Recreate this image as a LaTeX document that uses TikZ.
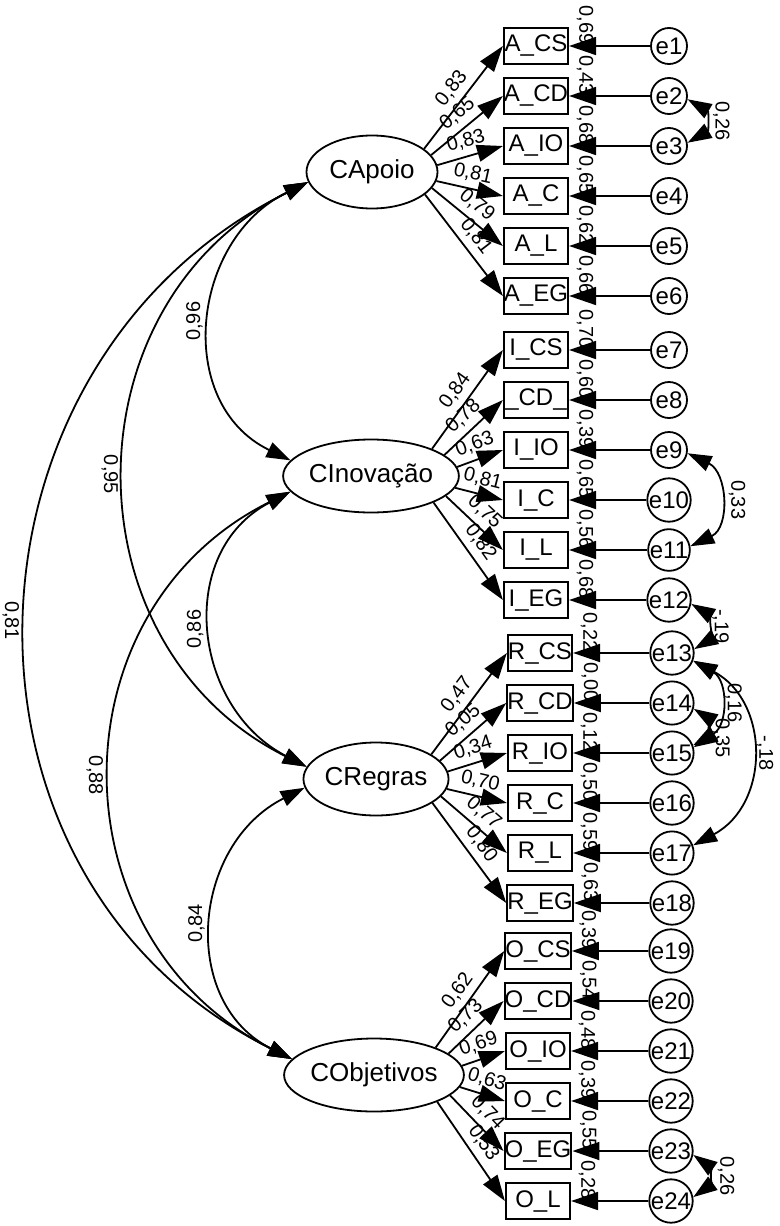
\documentclass[tikz,border=0pt]{standalone}
\usepackage{fontspec}
\setmainfont{Liberation Sans}
\usetikzlibrary{arrows.meta,shapes.geometric}
\begin{document}
\begin{tikzpicture}[x=1pt,y=-1pt,
  lat/.style={draw, ellipse, line width=1.8pt, minimum width=131pt, minimum height=73pt, inner sep=0pt, font=\fontsize{26}{28}\selectfont},
  obs/.style={draw, rectangle, line width=2.2pt, minimum width=64pt, minimum height=36pt, inner sep=0pt, font=\fontsize{24}{26}\selectfont},
  err/.style={draw, circle, line width=1.8pt, minimum size=36pt, inner sep=0pt, font=\fontsize{24}{26}\selectfont},
  arr/.style={line width=1.8pt, -{Triangle[length=26pt,width=17pt]}},
  darr/.style={line width=1.8pt, {Triangle[length=24pt,width=16pt]}-{Triangle[length=24pt,width=16pt]}},
  lab/.style={font=\fontsize{20}{22}\selectfont, inner sep=1pt},
]
\useasboundingbox (0,0) rectangle (779,1226);

% latent variables
\node[lat] (CA) at (372,172) {CApoio};
\node[lat] (CI) at (371,476) {CInovação};
\node[lat] (CR) at (376,779) {CRegras};
\node[lat] (CO) at (374,1075) {CObjetivos};

% observed variables and errors
\foreach \n/\txt/\x/\y/\e/\ex in {
  ACS/A\_CS/536/46/e1/669, ACD/A\_CD/536/96/e2/669, AIO/A\_IO/536/146/e3/669,
  AC/A\_C/536/196/e4/669, AL/A\_L/536/246/e5/669, AEG/A\_EG/536/296/e6/669,
  ICS/I\_CS/536/350/e7/669, ICD/\_CD\_/536/400/e8/669, IIO/I\_IO/536/450/e9/669,
  IC/I\_C/536/500/e10/669, IL/I\_L/536/550/e11/669, IEG/I\_EG/536/600/e12/669,
  RCS/R\_CS/540/653/e13/672, RCD/R\_CD/540/703/e14/672, RIO/R\_IO/540/753/e15/672,
  RC/R\_C/540/803/e16/672, RL/R\_L/540/853/e17/672, REG/R\_EG/540/903/e18/672,
  OCS/O\_CS/538/951/e19/671, OCD/O\_CD/538/1001/e20/671, OIO/O\_IO/538/1051/e21/671,
  OC/O\_C/538/1101/e22/671, OEG/O\_EG/538/1151/e23/671, OL/O\_L/538/1201/e24/671}{
  \node[obs] (\n) at (\x,\y) {\txt};
  \node[err] (\e) at (\ex,\y) {\e};
  \draw[line width=1.8pt, -{Triangle[length=27pt,width=18pt]}] (\e) -- (\n);
}

% loadings
\foreach \lat/\n/\ang/\v in {
  CA/ACS/24/{0,83}, CA/ACD/16/{0,65}, CA/AIO/6/{0,83}, CA/AC/352/{0,81}, CA/AL/345/{0,79}, CA/AEG/337/{0,81},
  CI/ICS/24/{0,84}, CI/ICD/16/{0,78}, CI/IIO/6/{0,63}, CI/IC/352/{0,81}, CI/IL/345/{0,75}, CI/IEG/337/{0,82},
  CR/RCS/24/{0,47}, CR/RCD/16/{0,05}, CR/RIO/6/{0,34}, CR/RC/352/{0,70}, CR/RL/345/{0,77}, CR/REG/337/{0,80},
  CO/OCS/24/{0,62}, CO/OCD/16/{0,73}, CO/OIO/6/{0,69}, CO/OC/352/{0,63}, CO/OEG/345/{0,74}, CO/OL/337/{0,53}}{
  \draw[arr] (\lat.\ang) -- (\n.west) node[lab, sloped, above=5pt, pos=0.5] (l\n) {\v};
}

% squared multiple correlations
\foreach \n/\v in {
  ACS/{0,69}, ACD/{0,43}, AIO/{0,68}, AC/{0,65}, AL/{0,62}, AEG/{0,66},
  ICS/{0,70}, ICD/{0,60}, IIO/{0,39}, IC/{0,65}, IL/{0,56}, IEG/{0,68},
  RCS/{0,22}, RCD/{0,00}, RIO/{0,12}, RC/{0,50}, RL/{0,59}, REG/{0,63},
  OCS/{0,39}, OCD/{0,54}, OIO/{0,48}, OC/{0,39}, OEG/{0,55}, OL/{0,28}}{
  \node[lab, rotate=-90] (r\n) at ([shift={(16,-21)}]\n.east) {\v};
}

% covariances between latent variables
\draw[darr] (CA.189) .. controls +(-117,57) and +(-117,-57) .. (CI.169)
  node[lab, pos=0.5, xshift=-17pt, rotate=90] (c1) {0,96};
\draw[darr] (CA.189) .. controls +(-242,121) and +(-242,-121) .. (CR.170)
  node[lab, pos=0.5, xshift=-16pt, rotate=-90] (c2) {0,95};
\draw[darr] (CA.189) .. controls +(-363,181) and +(-363,-181) .. (CO.169)
  node[lab, pos=0.5, xshift=-17pt, rotate=-90] (c3) {0,81};
\draw[darr] (CI.191) .. controls +(-115,60) and +(-115,-60) .. (CR.170)
  node[lab, pos=0.5, xshift=-17pt, rotate=90] (c4) {0,86};
\draw[darr] (CI.191) .. controls +(-239,119) and +(-239,-119) .. (CO.169)
  node[lab, pos=0.5, xshift=-17pt, rotate=-90] (c5) {0,88};
\draw[darr] (CR.187) .. controls +(-113,57) and +(-113,-57) .. (CO.169)
  node[lab, pos=0.5, xshift=-17pt, rotate=90] (c6) {0,84};

% covariances between errors
\draw[darr] (e2.350) .. controls +(21,12) and +(21,-12) .. (e3.10)
  node[lab, pos=0.5, xshift=18pt, rotate=-90] (d1) {0,26};
\draw[darr] (e9.350) .. controls +(40,19) and +(40,-19) .. (e11.10)
  node[lab, pos=0.5, xshift=18pt, rotate=-90] (d2) {0,33};
\draw[darr] (e12.350) .. controls +(17,10) and +(17,-10) .. (e13.10)
  node[lab, pos=0.5, xshift=15pt, rotate=-90] (d3) {-,19};
\draw[darr] (e13.340) .. controls +(35,20) and +(35,-20) .. (e15.20)
  node[lab, pos=0.5, xshift=14pt, rotate=-90] (d4) {0,16};
\draw[darr] (e14.345) .. controls +(13,8) and +(13,-8) .. (e15.15)
  node[lab, pos=0.5, xshift=18pt, yshift=-10pt, rotate=-90] (d5) {0,35};
\draw[darr] (e13.340) .. controls +(77,41) and +(77,-41) .. (e17.20)
  node[lab, pos=0.5, xshift=14pt, rotate=-90] (d6) {-,18};
\draw[darr] (e23.350) .. controls +(17,12) and +(17,-12) .. (e24.10)
  node[lab, pos=0.5, xshift=20pt, rotate=-90] (d7) {0,26};
\end{tikzpicture}
\end{document}
